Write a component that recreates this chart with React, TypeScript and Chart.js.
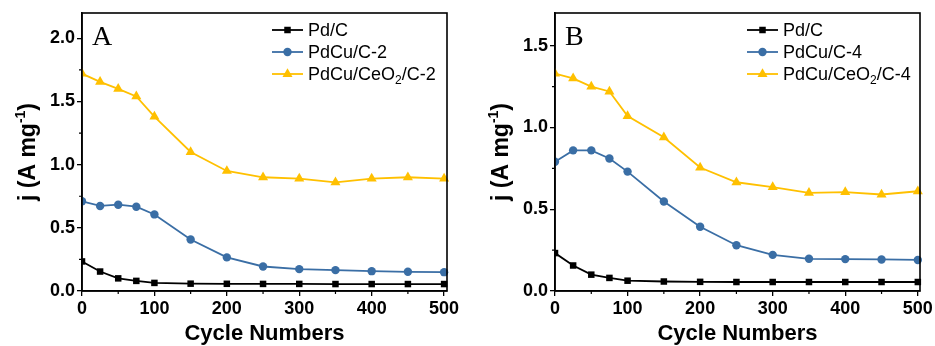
import React, { useEffect, useRef } from "react";
import { Chart, registerables } from "chart.js";
Chart.register(...registerables);

const cycles = [0, 25, 50, 75, 100, 150, 200, 250, 300, 350, 400, 450, 500];
const pdcA = [0.234, 0.154, 0.1, 0.08, 0.064, 0.058, 0.057, 0.056, 0.056, 0.055, 0.055, 0.055, 0.055];
const pdcuA = [0.71, 0.673, 0.683, 0.667, 0.606, 0.407, 0.266, 0.194, 0.173, 0.165, 0.157, 0.152, 0.149];
const ceoA = [1.72, 1.655, 1.6, 1.54, 1.38, 1.1, 0.95, 0.9, 0.89, 0.86, 0.89, 0.9, 0.89];
const pdcB = [0.232, 0.156, 0.1, 0.08, 0.063, 0.058, 0.056, 0.055, 0.055, 0.055, 0.055, 0.055, 0.055];
const pdcuB = [0.79, 0.86, 0.86, 0.81, 0.73, 0.547, 0.393, 0.28, 0.221, 0.197, 0.195, 0.193, 0.19];
const ceoB = [1.33, 1.3, 1.25, 1.22, 1.07, 0.94, 0.755, 0.665, 0.635, 0.6, 0.605, 0.59, 0.61];

const labelsA = ["Pd/C", "PdCu/C-2", "PdCu/CeO₂/C-2"];
const labelsB = ["Pd/C", "PdCu/C-4", "PdCu/CeO₂/C-4"];

const xTicks = [0, 100, 200, 300, 400, 500];
const xMinor = [50, 150, 250, 350, 450];
const yTicksA = [0, 0.5, 1.0, 1.5, 2.0];
const yMinorA = [0.25, 0.75, 1.25, 1.75];
const yTicksB = [0, 0.5, 1.0, 1.5];
const yMinorB = [0.25, 0.75, 1.25];

const COLORS = ["#000000", "#3A6EA5", "#FFC000"];
const STYLES = ["rect", "circle", "triangle"];
const RADII = [4.6, 4.2, 5.8];

const SANS = "'Liberation Sans', Arial, sans-serif";

function drawMarker(ctx: CanvasRenderingContext2D, style: string, x: number, y: number, r: number, color: string) {
  ctx.fillStyle = color;
  ctx.beginPath();
  if (style === "rect") {
    const s = Math.SQRT1_2 * r;
    ctx.rect(x - s, y - s, 2 * s, 2 * s);
  } else if (style === "circle") {
    ctx.arc(x, y, r, 0, Math.PI * 2);
  } else {
    for (let k = 0; k < 3; k++) {
      const a = (k * 2 * Math.PI) / 3;
      const px = x + Math.sin(a) * r;
      const py = y - Math.cos(a) * r;
      if (k === 0) ctx.moveTo(px, py);
      else ctx.lineTo(px, py);
    }
    ctx.closePath();
  }
  ctx.fill();
}

function drawRichText(ctx: CanvasRenderingContext2D, text: string, x: number, y: number, size: number) {
  // handles subscript ₂
  const parts = text.split("₂");
  let cx = x;
  parts.forEach((p, i) => {
    ctx.font = `${size}px ${SANS}`;
    ctx.fillText(p, cx, y);
    cx += ctx.measureText(p).width;
    if (i < parts.length - 1) {
      ctx.font = `${Math.round(size * 0.65)}px ${SANS}`;
      ctx.fillText("2", cx, y + size * 0.32);
      cx += ctx.measureText("2").width;
    }
  });
}

const decor = {
  id: "decor",
  afterDraw(chart: any, _args: any, opts: any) {
    const { ctx, chartArea: a, scales } = chart;
    const xs = scales.x;
    const ys = scales.y;
    ctx.save();
    // frame
    ctx.strokeStyle = "#000";
    ctx.lineWidth = 1.6;
    ctx.strokeRect(a.left, a.top, a.right - a.left, a.bottom - a.top);
    // minor ticks
    ctx.lineWidth = 1.2;
    ctx.beginPath();
    for (const v of opts.xMinor) {
      const px = xs.getPixelForValue(v);
      ctx.moveTo(px, a.bottom);
      ctx.lineTo(px, a.bottom + 3);
    }
    for (const v of opts.yMinor) {
      const py = ys.getPixelForValue(v);
      ctx.moveTo(a.left, py);
      ctx.lineTo(a.left - 3, py);
    }
    ctx.stroke();

    // y title
    ctx.save();
    ctx.fillStyle = "#000";
    ctx.translate(opts.yTitleX, (a.top + a.bottom) / 2);
    ctx.rotate(-Math.PI / 2);
    const fs = 23;
    const main1 = "j (A mg";
    const sup = "-1";
    const main2 = ")";
    ctx.font = `bold ${fs}px ${SANS}`;
    const w1 = ctx.measureText(main1).width;
    const w3 = ctx.measureText(main2).width;
    ctx.font = `bold ${Math.round(fs * 0.62)}px ${SANS}`;
    const w2 = ctx.measureText(sup).width;
    const total = w1 + w2 + w3;
    let cx = -total / 2;
    ctx.textBaseline = "middle";
    ctx.textAlign = "left";
    ctx.font = `bold ${fs}px ${SANS}`;
    ctx.fillText(main1, cx, 0);
    cx += w1;
    ctx.font = `bold ${Math.round(fs * 0.62)}px ${SANS}`;
    ctx.fillText(sup, cx, -fs * 0.36);
    cx += w2;
    ctx.font = `bold ${fs}px ${SANS}`;
    ctx.fillText(main2, cx, 0);
    ctx.restore();

    // legend
    const lx = opts.legendX;
    const rows = [30, 52, 74];
    chart.data.datasets.forEach((ds: any, i: number) => {
      const yy = rows[i];
      ctx.strokeStyle = ds.borderColor;
      ctx.lineWidth = 1.8;
      ctx.beginPath();
      ctx.moveTo(lx, yy);
      ctx.lineTo(lx + 31, yy);
      ctx.stroke();
      drawMarker(ctx, ds.pointStyle, lx + 15.5, yy, ds.pointRadius, ds.borderColor);
      ctx.fillStyle = "#000";
      ctx.textBaseline = "middle";
      ctx.textAlign = "left";
      drawRichText(ctx, ds.label, lx + 36, yy + 1, 18);
    });

    // panel letter
    ctx.fillStyle = "#000";
    ctx.textBaseline = "alphabetic";
    ctx.textAlign = "left";
    ctx.font = `28px 'Liberation Serif', 'Times New Roman', serif`;
    ctx.fillText(opts.letter, opts.letterX, 45);
    ctx.restore();
  },
};

type PanelProps = {
  left: number;
  width: number;
  series: number[][];
  labels: string[];
  yMax: number;
  xMax: number;
  yTicks: number[];
  yMinor: number[];
  axisW: number;
  padRight: number;
  legendX: number;
  letter: string;
  letterX: number;
};

function Panel(p: PanelProps) {
  const ref = useRef<HTMLCanvasElement | null>(null);
  useEffect(() => {
    if (!ref.current) return;
    const chart = new Chart(ref.current, {
      type: "line",
      data: {
        datasets: p.series.map((vals, i) => ({
          label: p.labels[i],
          data: cycles.map((c, k) => ({ x: c, y: vals[k] })),
          borderColor: COLORS[i],
          backgroundColor: COLORS[i],
          pointBackgroundColor: COLORS[i],
          pointBorderColor: COLORS[i],
          pointStyle: STYLES[i] as any,
          pointRadius: RADII[i],
          pointBorderWidth: 0,
          borderWidth: 1.8,
          tension: 0,
          clip: { left: 0, top: 10, right: 10, bottom: 10 } as any,
        })),
      },
      options: {
        animation: false,
        responsive: false,
        maintainAspectRatio: false,
        layout: { padding: { left: 0, right: p.padRight, top: 13, bottom: 0 } },
        plugins: {
          legend: { display: false },
          tooltip: { enabled: false },
          decor: {
            xMinor,
            yMinor: p.yMinor,
            yTitleX: p.axisW - 53,
            legendX: p.legendX,
            letter: p.letter,
            letterX: p.letterX,
          },
        } as any,
        scales: {
          x: {
            type: "linear",
            min: 0,
            max: p.xMax,
            afterBuildTicks: (s: any) => {
              s.ticks = xTicks.map((v) => ({ value: v }));
            },
            afterFit: (s: any) => {
              s.height = 55;
            },
            grid: {
              display: true,
              drawOnChartArea: false,
              drawTicks: true,
              tickLength: 5,
              color: "#000",
              lineWidth: 1.3,
            },
            border: { display: true, color: "#000", width: 1.6 },
            ticks: {
              color: "#000",
              padding: 2,
              maxRotation: 0,
              autoSkip: false,
              font: { family: SANS, weight: "bold", size: 18 },
              callback: (v: any) => String(v),
            },
            title: {
              display: true,
              text: "Cycle Numbers",
              color: "#000",
              padding: { top: 0, bottom: 1 },
              font: { family: SANS, weight: "bold", size: 22, lineHeight: 1 },
            },
          },
          y: {
            type: "linear",
            min: 0,
            max: p.yMax,
            afterBuildTicks: (s: any) => {
              s.ticks = p.yTicks.map((v) => ({ value: v }));
            },
            afterFit: (s: any) => {
              s.width = p.axisW;
            },
            grid: {
              display: true,
              drawOnChartArea: false,
              drawTicks: true,
              tickLength: 5,
              color: "#000",
              lineWidth: 1.3,
            },
            border: { display: true, color: "#000", width: 1.6 },
            ticks: {
              color: "#000",
              padding: 2,
              autoSkip: false,
              font: { family: SANS, weight: "bold", size: 18 },
              callback: (v: any) => Number(v).toFixed(1),
            },
            title: { display: false },
          },
        },
      },
      plugins: [decor as any],
    });
    return () => chart.destroy();
  }, []);
  return (
    <div style={{ position: "absolute", left: p.left, top: 0, width: p.width, height: 346 }}>
      <canvas ref={ref} width={p.width} height={346} style={{ width: p.width, height: 346, display: "block" }} />
    </div>
  );
}

export default function App() {
  return (
    <div style={{ position: "fixed", left: 0, top: 0, width: 935, height: 346, background: "#fff", overflow: "hidden" }}>
      <Panel
        left={0}
        width={467}
        series={[pdcA, pdcuA, ceoA]}
        labels={labelsA}
        yMax={2.2}
        xMax={504}
        yTicks={yTicksA}
        yMinor={yMinorA}
        axisW={82}
        padRight={20}
        legendX={272}
        letter="A"
        letterX={92}
      />
      <Panel
        left={467}
        width={468}
        series={[pdcB, pdcuB, ceoB]}
        labels={labelsB}
        yMax={1.7}
        xMax={503}
        yTicks={yTicksB}
        yMinor={yMinorB}
        axisW={88}
        padRight={15}
        legendX={280}
        letter="B"
        letterX={98}
      />
    </div>
  );
}
